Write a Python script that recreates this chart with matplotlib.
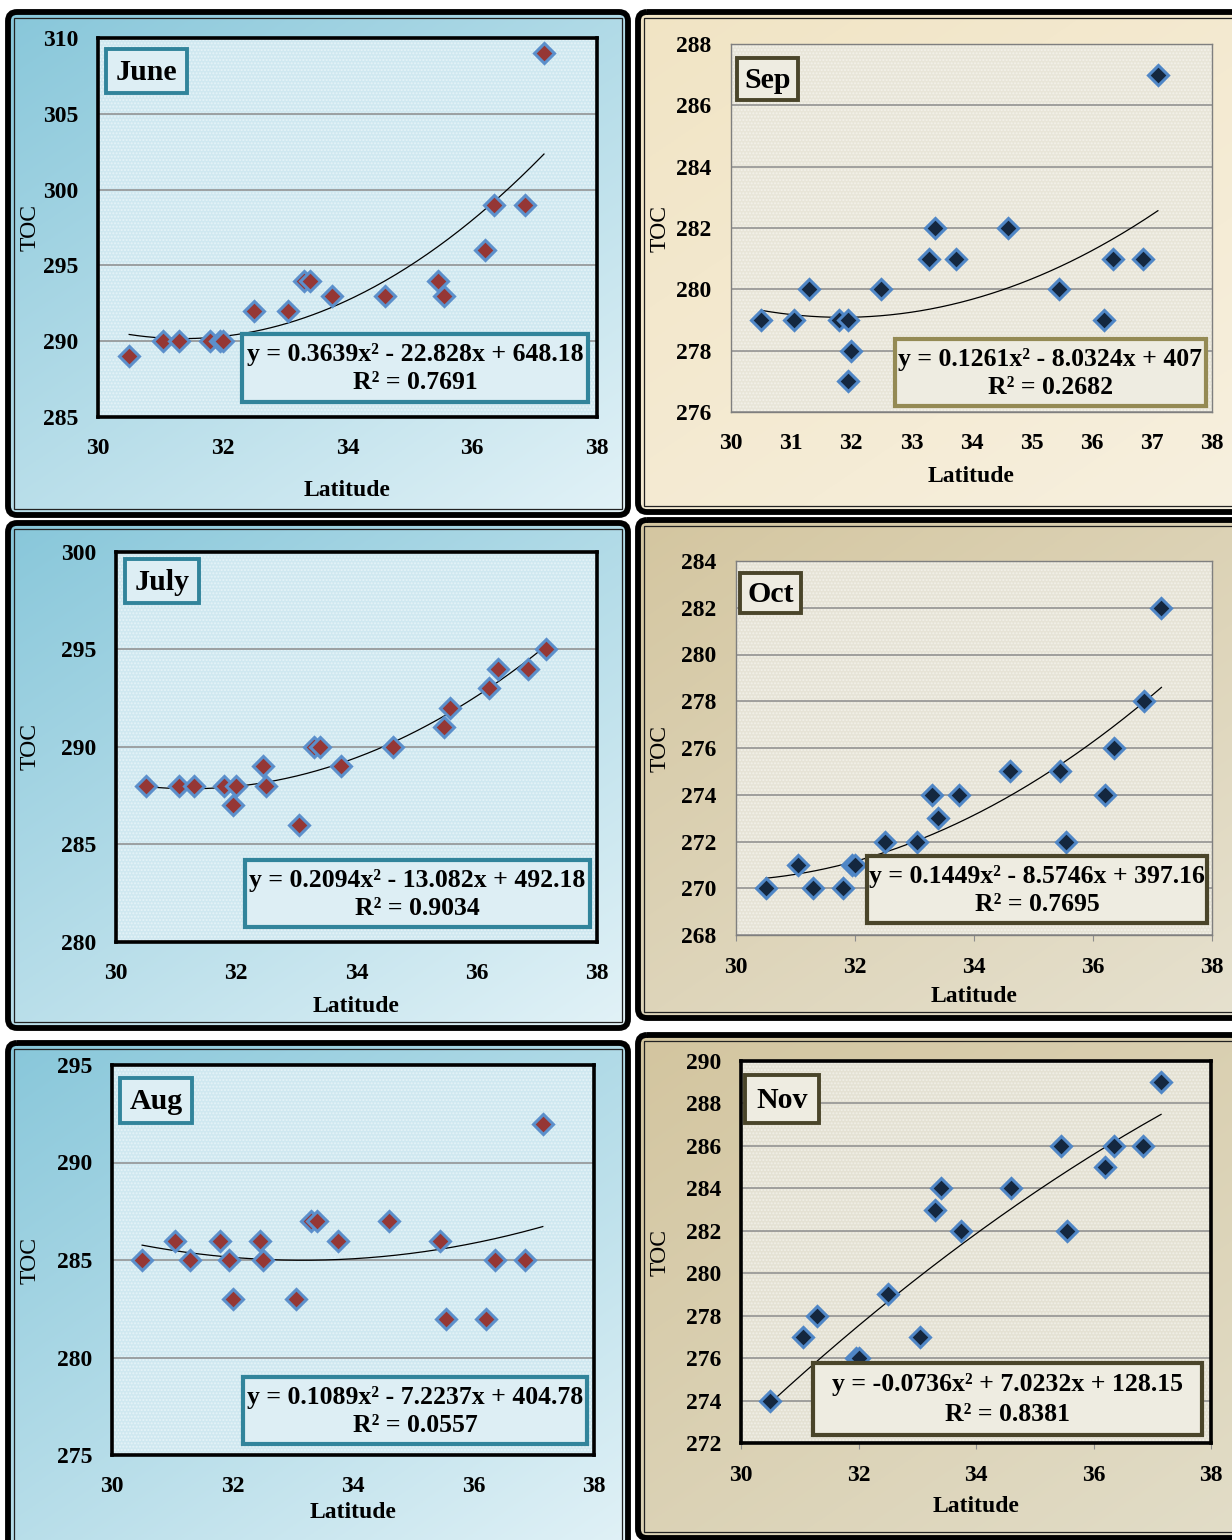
import numpy as np
import matplotlib
matplotlib.use("Agg")
import matplotlib.pyplot as plt
from matplotlib.patches import FancyBboxPatch, Rectangle

plt.rcParams['font.family'] = ['Liberation Serif', 'DejaVu Serif']

W, H = 1232, 1540

# ---- data ----
june_lat = [30.5, 31.05, 31.3, 31.8, 31.95, 32.0, 32.5, 33.05, 33.3, 33.4, 33.75, 34.6, 35.45, 35.55, 36.2, 36.35, 36.85, 37.15]
june_toc = [289, 290, 290, 290, 290, 290, 292, 292, 294, 294, 293, 293, 294, 293, 296, 299, 299, 309]
june_fit = [0.3639, -22.828, 648.18]

july_lat = [30.5, 31.05, 31.3, 31.8, 31.95, 32.0, 32.45, 32.5, 33.05, 33.3, 33.4, 33.75, 34.6, 35.45, 35.55, 36.2, 36.35, 36.85, 37.15]
july_toc = [288, 288, 288, 288, 287, 288, 289, 288, 286, 290, 290, 289, 290, 291, 292, 293, 294, 294, 295]
july_fit = [0.2094, -13.082, 492.18]

aug_lat = [30.5, 31.05, 31.3, 31.8, 31.95, 32.0, 32.45, 32.5, 33.05, 33.3, 33.4, 33.75, 34.6, 35.45, 35.55, 36.2, 36.35, 36.85, 37.15]
aug_toc = [285, 286, 285, 286, 285, 283, 286, 285, 283, 287, 287, 286, 287, 286, 282, 282, 285, 285, 292]
aug_fit = [0.1089, -7.2237, 404.78]

sep_lat = [30.5, 31.05, 31.3, 31.8, 31.95, 31.95, 32.0, 32.5, 33.3, 33.4, 33.75, 34.6, 35.45, 36.2, 36.35, 36.85, 37.1]
sep_toc = [279, 279, 280, 279, 279, 277, 278, 280, 281, 282, 281, 282, 280, 279, 281, 281, 287]
sep_fit = [0.1261, -8.0324, 407]

oct_lat = [30.5, 31.05, 31.3, 31.8, 31.95, 32.0, 32.5, 33.05, 33.3, 33.4, 33.75, 34.6, 35.45, 35.55, 36.2, 36.35, 36.85, 37.15]
oct_toc = [270, 271, 270, 270, 271, 271, 272, 272, 274, 273, 274, 275, 275, 272, 274, 276, 278, 282]
oct_fit = [0.1449, -8.5746, 397.16]

nov_lat = [30.5, 31.05, 31.3, 31.95, 32.0, 32.5, 33.05, 33.3, 33.4, 33.75, 34.6, 35.45, 35.55, 36.2, 36.35, 36.85, 37.15]
nov_toc = [274, 277, 278, 276, 276, 279, 277, 283, 284, 282, 284, 286, 282, 285, 286, 286, 289]
nov_fit = [-0.0736, 7.0232, 128.15]

months = ['June', 'July', 'Aug', 'Sep', 'Oct', 'Nov']
equations = ['y = 0.3639x² - 22.828x + 648.18', 'y = 0.2094x² - 13.082x + 492.18',
             'y = 0.1089x² - 7.2237x + 404.78', 'y = 0.1261x² - 8.0324x + 407',
             'y = 0.1449x² - 8.5746x + 397.16', 'y = -0.0736x² + 7.0232x + 128.15']
r2_labels = ['R² = 0.7691', 'R² = 0.9034', 'R² = 0.0557', 'R² = 0.2682', 'R² = 0.7695', 'R² = 0.8381']

# ---- layout (pixels) ----
panels = {
    'June': dict(frame=(8, 12, 628, 515), ax=(98, 38, 597, 417), ylim=(285, 310), ystep=5, xstep=2,
                 lab=(106, 49, 187, 93), eq=(242, 334, 588, 402), xl=490, yl=30),
    'July': dict(frame=(8, 523, 628, 1028), ax=(116, 552, 597, 942), ylim=(280, 300), ystep=5, xstep=2,
                 lab=(125, 559, 199, 603), eq=(245, 860, 590, 927), xl=1006, yl=30),
    'Aug': dict(frame=(8, 1043, 628, 1560), ax=(112, 1065, 594, 1455), ylim=(275, 295), ystep=5, xstep=2,
                lab=(120, 1078, 192, 1123), eq=(243, 1377, 587, 1444), xl=1512, yl=30),
    'Sep': dict(frame=(638, 12, 1245, 512), ax=(731, 44, 1212, 412), ylim=(276, 288), ystep=2, xstep=1,
                lab=(737, 58, 798, 100), eq=(895, 339, 1206, 406), xl=477, yl=660),
    'Oct': dict(frame=(638, 520, 1245, 1018), ax=(736, 561, 1212, 935), ylim=(268, 284), ystep=2, xstep=2,
                lab=(740, 573, 801, 613), eq=(867, 856, 1207, 923), xl=996, yl=660),
    'Nov': dict(frame=(638, 1035, 1245, 1538), ax=(741, 1061, 1211, 1443), ylim=(272, 290), ystep=2, xstep=2,
                lab=(745, 1075, 819, 1123), eq=(813, 1363, 1202, 1435), xl=1507, yl=660),
}
series = {'June': (june_lat, june_toc, june_fit), 'July': (july_lat, july_toc, july_fit),
          'Aug': (aug_lat, aug_toc, aug_fit), 'Sep': (sep_lat, sep_toc, sep_fit),
          'Oct': (oct_lat, oct_toc, oct_fit), 'Nov': (nov_lat, nov_toc, nov_fit)}

blue_style = dict(grad=('#88c7da', '#e2f2f7'), plot='#cfe8f0', mfc='#953735', mec='#5b8fcb',
                  box_fc='#ddeef4', lab_ec='#31849b', eq_ec='#31849b', spine=('black', 2.6))
styles = {
    'June': blue_style, 'July': blue_style, 'Aug': blue_style,
    'Sep': dict(grad=('#f1e4c4', '#f7f0df'), plot='#e8e5d8', mfc='#14273f', mec='#4f86c6',
                box_fc='#eeece1', lab_ec='#4a452a', eq_ec='#948a54', spine=('#7f7f7f', 1.0)),
    'Oct': dict(grad=('#d4c6a0', '#e6e1cf'), plot='#e6e3d6', mfc='#14273f', mec='#4f86c6',
                box_fc='#eeece1', lab_ec='#4a452a', eq_ec='#4a452a', spine=('#7f7f7f', 1.0)),
    'Nov': dict(grad=('#d3c59f', '#e2ddc8'), plot='#e4e1d3', mfc='#14273f', mec='#4f86c6',
                box_fc='#eeece1', lab_ec='#4a452a', eq_ec='#4a452a', spine=('black', 2.6)),
}

fig = plt.figure(figsize=(W / 100, H / 100), dpi=100)
fig.patch.set_facecolor('white')

bg = fig.add_axes([0, 0, 1, 1], zorder=0)
bg.set_xlim(0, W)
bg.set_ylim(H, 0)
bg.axis('off')

ov = fig.add_axes([0, 0, 1, 1], zorder=10)
ov.set_xlim(0, W)
ov.set_ylim(H, 0)
ov.axis('off')
ov.patch.set_alpha(0)


def gradient(c0, c1, n=200):
    a = np.array(matplotlib.colors.to_rgb(c0))
    b = np.array(matplotlib.colors.to_rgb(c1))
    u, v = np.meshgrid(np.linspace(0, 1, n), np.linspace(0, 1, n))
    t = (0.45 * u + 0.55 * v)[..., None]
    return a * (1 - t) + b * t


for i, m in enumerate(months):
    p = panels[m]
    st = styles[m]
    fx0, fy0, fx1, fy1 = p['frame']

    # panel background and frame
    frame = FancyBboxPatch((fx0, fy0), fx1 - fx0, fy1 - fy0, boxstyle='round,pad=0,rounding_size=9',
                           fc='none', ec='black', lw=4.2, zorder=3)
    bg.add_patch(frame)
    im = bg.imshow(gradient(*st['grad']), extent=(fx0, fx1, fy1, fy0), aspect='auto', zorder=1)
    im.set_clip_path(frame)
    bg.add_patch(Rectangle((fx0 + 6, fy0 + 6), fx1 - fx0 - 12, fy1 - fy0 - 12,
                           fc='none', ec='#222222', lw=0.9, zorder=3))

    # plot area
    x0, y0, x1, y1 = p['ax']
    ax = fig.add_axes([x0 / W, 1 - y1 / H, (x1 - x0) / W, (y1 - y0) / H], zorder=5)
    ax.set_facecolor(st['plot'])
    ax.add_patch(Rectangle((0, 0), 1, 1, transform=ax.transAxes, fc='none', ec='white',
                           lw=0, hatch='.....', alpha=0.45, zorder=0))
    lat, toc, fit = series[m]
    ymin, ymax = p['ylim']
    ax.set_xlim(30, 38)
    ax.set_ylim(ymin, ymax)
    ax.set_xticks(np.arange(30, 38.1, p['xstep']))
    ax.set_yticks(np.arange(ymin, ymax + 0.1, p['ystep']))
    ax.yaxis.grid(True, color='#8c8c8c', lw=1.1, zorder=1)
    ax.set_axisbelow(True)
    xs = np.linspace(min(lat), max(lat), 200)
    ax.plot(xs, np.polyval(fit, xs), color='black', lw=0.9, zorder=3)
    ax.plot(lat, toc, linestyle='none', marker='D', ms=10.5, mfc=st['mfc'], mec=st['mec'],
            mew=2.2, zorder=4, clip_on=False)
    for s in ax.spines.values():
        s.set_color(st['spine'][0])
        s.set_linewidth(st['spine'][1])
    tick_len = 4 if m in ('Oct', 'Nov') else 0
    ax.tick_params(axis='x', length=tick_len, color='#8c8c8c', pad=15 - tick_len / 1.4,
                   labelsize=17)
    ax.tick_params(axis='y', length=0, pad=14, labelsize=17)
    for lbl in ax.get_xticklabels() + ax.get_yticklabels():
        lbl.set_fontweight('bold')

    # axis titles
    ov.text((x0 + x1) / 2, p['xl'], 'Latitude', ha='center', va='center', fontsize=17,
            fontweight='bold')
    ov.text(p['yl'], (y0 + y1) / 2, 'TOC', ha='center', va='center', rotation=90, fontsize=17)

    # month label box
    lx0, ly0, lx1, ly1 = p['lab']
    ov.add_patch(Rectangle((lx0, ly0), lx1 - lx0, ly1 - ly0, fc=st['box_fc'], ec=st['lab_ec'], lw=2.8))
    ov.text((lx0 + lx1) / 2, (ly0 + ly1) / 2 + 1, m, ha='center', va='center', fontsize=21.5,
            fontweight='bold')

    # equation box
    ex0, ey0, ex1, ey1 = p['eq']
    ov.add_patch(Rectangle((ex0, ey0), ex1 - ex0, ey1 - ey0, fc=st['box_fc'], ec=st['eq_ec'], lw=3.0))
    eh = ey1 - ey0
    ov.text((ex0 + ex1) / 2, ey0 + 0.30 * eh, equations[i], ha='center', va='center',
            fontsize=18.5, fontweight='bold')
    ov.text((ex0 + ex1) / 2, ey0 + 0.72 * eh, r2_labels[i], ha='center', va='center',
            fontsize=18.5, fontweight='bold')

fig.savefig('out.png', dpi=100)
